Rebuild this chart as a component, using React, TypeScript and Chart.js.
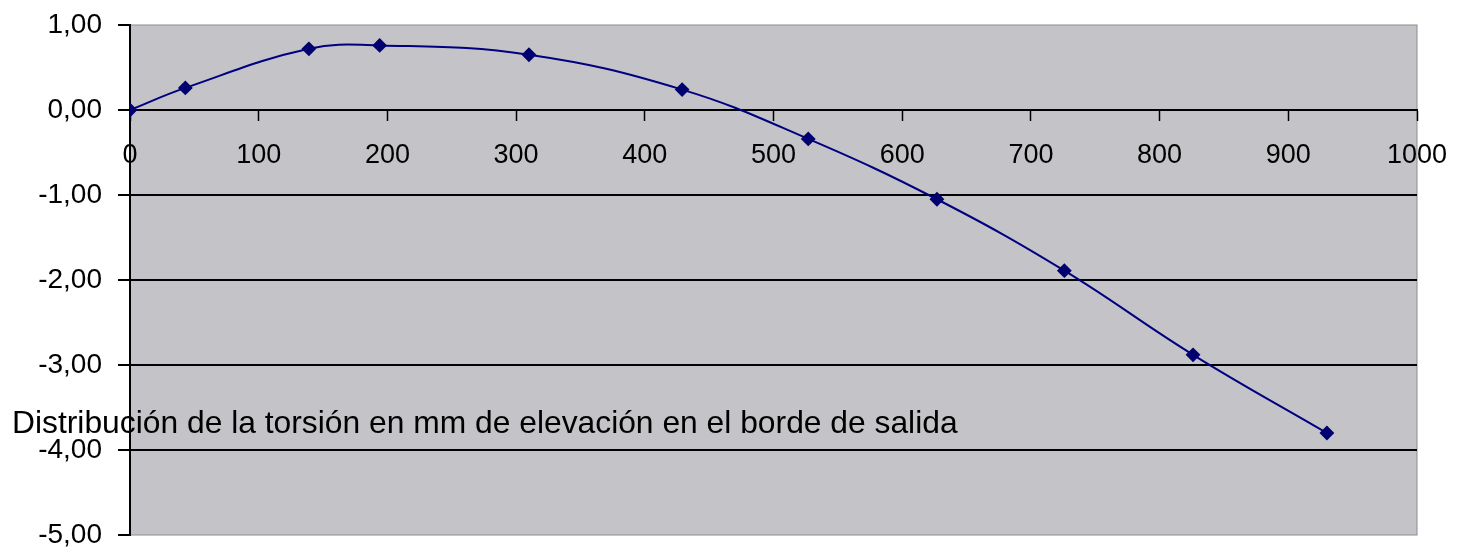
import React, { useEffect, useRef } from "react";
import { Chart, registerables } from "chart.js";

Chart.register(...registerables);

const titleText = "Distribución de la torsión en mm de elevación en el borde de salida";
const xValues = [0, 43, 139, 194, 310, 429, 527, 627, 726, 826, 930];
const yValues = [0, 0.26, 0.72, 0.76, 0.65, 0.24, -0.34, -1.05, -1.89, -2.88, -3.8];
const xTicks = [0, 100, 200, 300, 400, 500, 600, 700, 800, 900, 1000];
const yTicks = [1, 0, -1, -2, -3, -4, -5];

const FONT = '"Liberation Sans", Arial, sans-serif';

const plotBg = {
  id: "plotBg",
  beforeDraw(chart: any) {
    const { ctx, chartArea } = chart;
    ctx.save();
    ctx.fillStyle = "#c4c3c7";
    ctx.fillRect(chartArea.left, chartArea.top, chartArea.right - chartArea.left, chartArea.bottom - chartArea.top);
    ctx.strokeStyle = "#8c8c8c";
    ctx.lineWidth = 1;
    ctx.strokeRect(chartArea.left, chartArea.top, chartArea.right - chartArea.left, chartArea.bottom - chartArea.top);
    ctx.restore();
  },
};

const titlePlugin = {
  id: "titleOverlay",
  afterDraw(chart: any) {
    const { ctx } = chart;
    ctx.save();
    ctx.font = `31.8px ${FONT}`;
    ctx.fillStyle = "#000";
    ctx.textAlign = "left";
    ctx.textBaseline = "alphabetic";
    ctx.fillText(titleText, 12, 433);
    ctx.restore();
  },
};

export default function App() {
  const ref = useRef<HTMLCanvasElement | null>(null);

  useEffect(() => {
    document.body.style.margin = "0";
    if (!ref.current) return;
    const chart = new Chart(ref.current, {
      type: "line",
      data: {
        datasets: [
          {
            data: xValues.map((x, i) => ({ x, y: yValues[i] })),
            borderColor: "#000080",
            borderWidth: 2,
            backgroundColor: "#000070",
            pointBackgroundColor: "#000070",
            pointBorderColor: "#000070",
            pointStyle: "rectRot",
            pointRadius: 6,
            tension: 0.4,
            fill: false,
          },
        ],
      },
      options: {
        animation: false,
        responsive: true,
        maintainAspectRatio: false,
        layout: { padding: { top: 25, right: 44, bottom: 17, left: 0 } },
        plugins: { legend: { display: false }, tooltip: { enabled: false }, title: { display: false } },
        scales: {
          x: {
            type: "linear",
            min: 0,
            max: 1000,
            position: { y: 0 } as any,
            afterBuildTicks: (scale: any) => {
              scale.ticks = xTicks.map((v) => ({ value: v }));
            },
            afterFit: (scale: any) => {
              scale.paddingLeft = 0;
              scale.paddingRight = 0;
            },
            ticks: {
              color: "#000",
              font: { family: FONT, size: 27 },
              padding: 19,
              maxRotation: 0,
              autoSkip: false,
              callback: (v: any) => String(v),
            },
            grid: { drawOnChartArea: false, drawTicks: true, tickLength: 10, tickColor: "#000", tickWidth: 1.5 },
            border: { display: true, color: "#000", width: 2 },
          },
          y: {
            type: "linear",
            min: -5,
            max: 1,
            afterBuildTicks: (scale: any) => {
              scale.ticks = yTicks.map((v) => ({ value: v }));
            },
            afterFit: (scale: any) => {
              scale.width = 130;
              scale.paddingTop = 0;
              scale.paddingBottom = 0;
            },
            ticks: {
              color: "#000",
              font: { family: FONT, size: 28 },
              padding: 16,
              callback: (v: any) => Number(v).toFixed(2).replace(".", ","),
            },
            grid: {
              color: (c: any) => (c.tick && (c.tick.value === 1 || c.tick.value === -5) ? "rgba(0,0,0,0)" : "#000"),
              lineWidth: 2,
              tickColor: "#000",
              tickLength: 12,
              tickWidth: 2,
            },
            border: { display: true, color: "#000", width: 2 },
          },
        },
      },
      plugins: [plotBg, titlePlugin],
    });
    return () => chart.destroy();
  }, []);

  return (
    <div style={{ position: "relative", width: "1461px", height: "552px" }}>
      <canvas ref={ref} />
    </div>
  );
}
